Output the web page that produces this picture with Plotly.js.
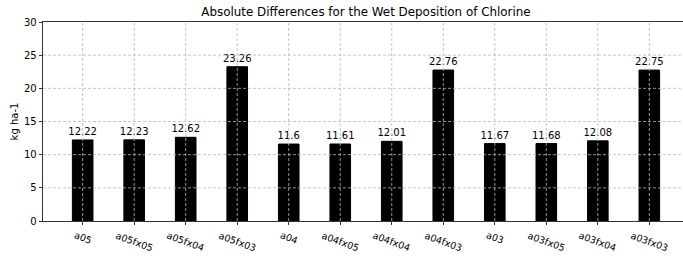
<!DOCTYPE html>
<html>
<head>
<meta charset="utf-8">
<script src="https://cdn.plot.ly/plotly-3.0.1.min.js"></script>
<style>
html,body{margin:0;padding:0;overflow:hidden;background:#fff;width:683px;height:259px;}
#chart{width:690px;height:259px;}
</style>
</head>
<body>
<div id="chart"></div>
<script>
const categories = ["a05","a05fx05","a05fx04","a05fx03","a04","a04fx05","a04fx04","a04fx03","a03","a03fx05","a03fx04","a03fx03"];
const values = [12.22,12.23,12.62,23.26,11.6,11.61,12.01,22.76,11.67,11.68,12.08,22.75];
const yTicks = [0,5,10,15,20,25,30];

const idx = categories.map((c,i)=>i);
const gridStyle = {color:"#b8b8b8", width:0.8, dash:"3px,2px"};
const shapes = [];
idx.forEach(i=>shapes.push({type:"line", xref:"x", yref:"y", x0:i, x1:i, y0:0, y1:30, line:gridStyle, layer:"above"}));
yTicks.slice(1,-1).forEach(v=>shapes.push({type:"line", xref:"paper", yref:"y", x0:0, x1:1, y0:v, y1:v, line:gridStyle, layer:"above"}));

const annotations = categories.map((c,i)=>({
  text:c, x:i, xref:"x", y:0, yref:"paper", yshift:-6,
  xanchor:"center", yanchor:"top", textangle:20, showarrow:false,
  font:{family:"DejaVu Sans", size:9.5, color:"#000"}
}));

const trace = {
  type:"bar",
  x: idx,
  y: values,
  width: 0.4,
  marker:{color:"#000000", line:{color:"#000000", width:1}},
  text: values.map(v=>String(v)),
  textposition:"outside",
  constraintext:"none",
  textfont:{family:"DejaVu Sans", size:10, color:"#000"},
  cliponaxis:false,
  hoverinfo:"none"
};

const layout = {
  width:690, height:259,
  margin:{l:43, r:1, t:22, b:38},
  paper_bgcolor:"#fff", plot_bgcolor:"#fff",
  font:{family:"DejaVu Sans", size:10, color:"#000"},
  showlegend:false,
  uniformtext:{mode:false},
  title:{text:"Absolute Differences for the Wet Deposition of Chlorine", font:{family:"DejaVu Sans", size:11.9, color:"#000"}, xref:"paper", x:0.5, xanchor:"center", yref:"container", y:1-12/259, yanchor:"middle"},
  xaxis:{
    range:[-0.77, 11.77],
    tickvals: idx, ticktext: categories.map(()=>""),
    ticks:"outside", ticklen:3.5, tickwidth:0.8, tickcolor:"#000",
    showgrid:false, zeroline:false,
    showline:true, linecolor:"#000", linewidth:0.8, mirror:true
  },
  yaxis:{
    range:[0,30], tickvals:yTicks,
    ticks:"outside", ticklen:3.5, tickwidth:0.8, tickcolor:"#000",
    showgrid:false, zeroline:false,
    showline:true, linecolor:"#000", linewidth:0.8, mirror:true,
    tickfont:{family:"DejaVu Sans", size:10, color:"#000"},
    title:{text:"kg ha-1", font:{family:"DejaVu Sans", size:10, color:"#000"}, standoff:3}
  },
  shapes: shapes,
  annotations: annotations
};

Plotly.newPlot("chart", [trace], layout, {staticPlot:true, displayModeBar:false});
</script>
</body>
</html>
